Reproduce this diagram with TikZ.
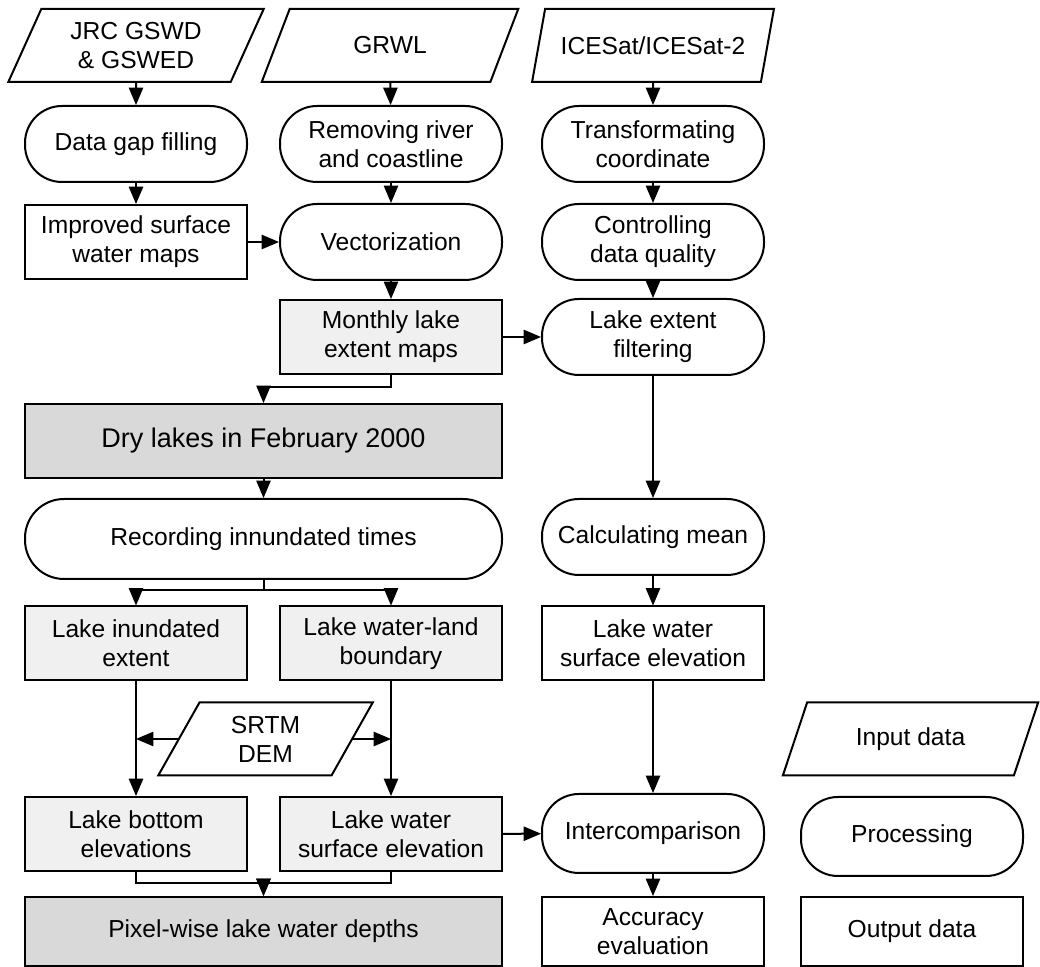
\documentclass[tikz,border=0pt]{standalone}
\usepackage{fontspec}
\setmainfont{Liberation Sans}
\usepackage{tikz}
\usetikzlibrary{arrows}
\usetikzlibrary{positioning}
\usetikzlibrary{shapes.geometric}

\definecolor{lightfill}{RGB}{240,240,240}
\definecolor{darkfill}{RGB}{217,217,217}

\tikzset{
  box/.style={draw, rectangle, minimum width=111pt, minimum height=37pt, align=center, inner sep=2pt},
  proc/.style={box, rounded corners=18.5pt, minimum height=38pt},
  result/.style={box, fill=lightfill},
  wide/.style={minimum width=238.5pt},
  indata/.style={draw, trapezium, trapezium left angle=66, trapezium right angle=114,
    trapezium stretches=true, minimum width=128.5pt, minimum height=36.5pt, align=center, inner sep=2pt},
}

\begin{document}
\begin{tikzpicture}[x=0.5pt, y=-0.5pt, line width=1pt, >=triangle 45,
  font=\fontsize{12.3}{14.5}\selectfont]
\useasboundingbox (0,0) rectangle (1040,967);
% inputs
\node[indata] (jrc) at (136,45.5) {JRC GSWD\\\& GSWED};
\node[indata] (grwl) at (390,45.5) {GRWL};
\node[indata, minimum width=121pt] (ice) at (653,45.5) {ICESat/ICESat-2};
% first steps
\node[proc] (gap) at (136,144) {Data gap filling};
\node[proc] (removing) at (391,144) {Removing river\\and coastline};
\node[proc] (transform) at (653,144) {Transformating\\coordinate};
\node[box] (improved) at (136,242) {Improved surface\\water maps};
\node[proc] (vector) at (391,242) {Vectorization};
\node[proc] (control) at (653,242) {Controlling\\data quality};
\node[result] (monthly) at (391,337) {Monthly lake\\extent maps};
\node[proc] (filter) at (653,337) {Lake extent\\filtering};
% dry lakes
\node[box, wide, fill=darkfill, font=\fontsize{13.5}{16}\selectfont] (dry) at (263.5,441) {Dry lakes in February 2000};
\node[proc, wide, minimum height=40pt, rounded corners=19.5pt] (recording) at (263.5,539) {Recording innundated times};
\node[proc] (mean) at (653,537) {Calculating mean};
\node[result] (inund) at (136,643.5) {Lake inundated\\extent};
\node[result] (boundary) at (391,643.5) {Lake water-land\\boundary};
\node[box] (lwse) at (653,643.5) {Lake water\\surface elevation};
\node[indata, minimum width=107.5pt] (srtm) at (265.5,739) {SRTM\\DEM};
\node[result] (bottom) at (136,834) {Lake bottom\\elevations};
\node[result] (surface) at (391,834) {Lake water\\surface elevation};
\node[proc, minimum height=39.5pt] (inter) at (653,833.5) {Intercomparison};
\node[box, wide, fill=darkfill, minimum height=34.5pt] (pixel) at (263.5,931.5) {Pixel-wise lake water depths};
\node[box, minimum height=34.5pt] (accuracy) at (653,931.5) {Accuracy\\evaluation};
% legend
\node[indata] (input) at (910.5,739) {Input data};
\node[proc, minimum height=39.5pt] (processing) at (912,836.5) {Processing};
\node[box, minimum height=34.5pt] (output) at (912,931.5) {Output data};

\path[->] (jrc) edge (gap);
\path[->] (gap) edge (improved);
\path[->] (improved) edge (vector);
\path[->] (grwl) edge (removing);
\path[->] (removing) edge (vector);
\path[->] (vector) edge (monthly);
\path[->] (ice) edge (transform);
\path[->] (transform) edge (control);
\path[->] (control) edge (filter);
\path[->] (monthly) edge (filter);
\draw[->] (monthly.south) -- ++(0,12) -| (dry.north);
\path[->] (dry) edge (recording);
\draw[->] (recording.south) -- ++(0,10) -| (inund.north);
\draw[->] (recording.south) -- ++(0,10) -| (boundary.north);
\path[->] (filter) edge (mean);
\path[->] (mean) edge (lwse);
\path[->] (inund) edge (bottom);
\path[->] (boundary) edge (surface);
\draw[->] (srtm.west) -- (srtm.west -| inund.south);
\draw[->] (srtm.east) -- (srtm.east -| boundary.south);
\draw[->] (bottom.south) -- ++(0,11) -| (pixel.north);
\draw[->] (surface.south) -- ++(0,11) -| (pixel.north);
\path[->] (surface) edge (inter);
\path[->] (lwse) edge (inter);
\path[->] (inter) edge (accuracy);
\end{tikzpicture}
\end{document}
